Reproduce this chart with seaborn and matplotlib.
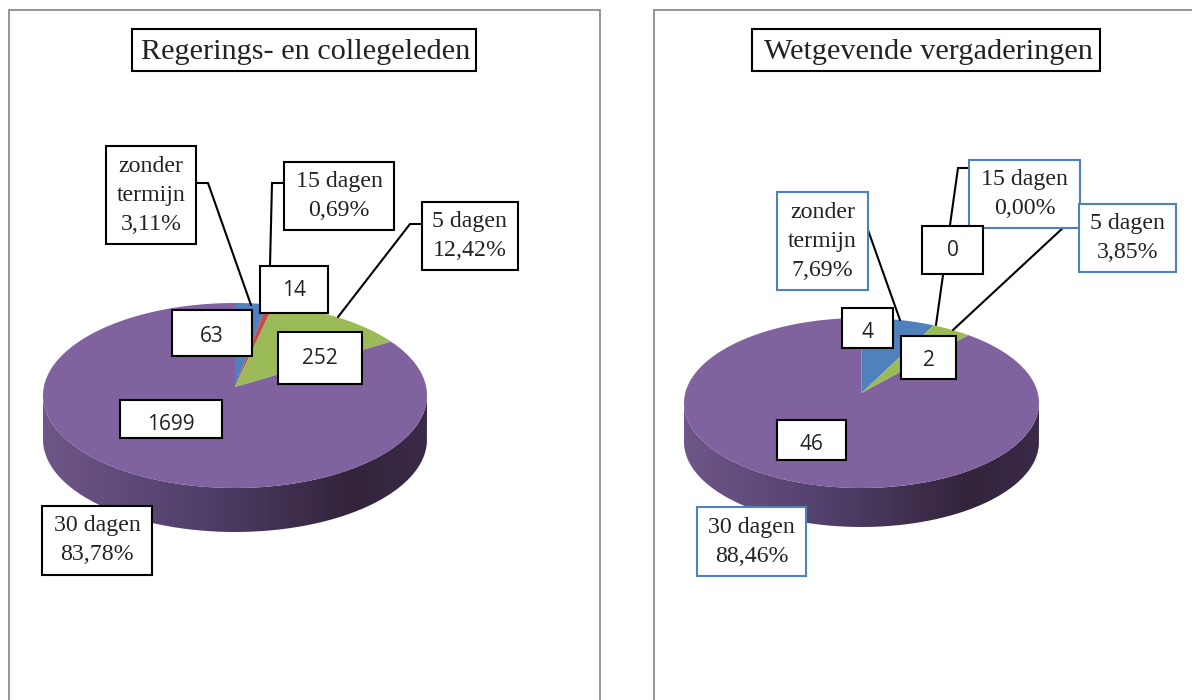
import numpy as np
import matplotlib
matplotlib.use("Agg")
import matplotlib.pyplot as plt
import seaborn as sns
from matplotlib.colors import LinearSegmentedColormap
from matplotlib.patches import Polygon, PathPatch, Rectangle
from matplotlib.path import Path
from matplotlib.transforms import Affine2D

# ---- data ----
categories = ["zonder\ntermijn", "15 dagen", "5 dagen", "30 dagen"]
titles = ["Regerings- en collegeleden", "Wetgevende vergaderingen"]
values_left = [63, 14, 252, 1699]
values_right = [4, 0, 2, 46]
percent_left = ["3,11%", "0,69%", "12,42%", "83,78%"]
percent_right = ["7,69%", "0,00%", "3,85%", "88,46%"]

# ---- style ----
sns.set_theme(style="white")
plt.rcParams["font.family"] = ["Liberation Serif", "DejaVu Serif"]
slice_colors = sns.color_palette(["#4F81BD", "#C0504D", "#9BBB59", "#80629E"])
side_cmap = LinearSegmentedColormap.from_list(
    "side", ["#6E5689", "#604B7A", "#51406C", "#423252", "#33243C", "#3A2A47"])
W, H = 1192, 700
TITLE_FS, LABEL_FS, VALUE_FS = 21.8, 17.2, 15

# ---- layout, in pixels of the picture ----
left_layout = dict(
    geom=(235, 395.5, 192, 92.5, 44, -8.5),
    frame=(9, 10, 600, 720),
    title=(132, 29, 476, 71),
    labels=[(106, 146, 196, 244), (284, 162, 394, 230), (422, 202, 518, 270), (42, 506, 152, 575)],
    boxes=[(172, 310, 252, 356), (260, 266, 328, 313), (278, 332, 362, 384), (120, 400, 222, 438)],
    box_dy=[3, 1, 0, 5],
    label_edge="black",
    leaders=[[(196, 183), (208, 183), (251, 305)],
             [(284, 183), (272, 183), (270, 266)],
             [(422, 224), (410, 224), (338, 317)]],
)
right_layout = dict(
    geom=(861.5, 403, 177.5, 85, 39, -10),
    frame=(654, 10, 1210, 720),
    title=(752, 29, 1100, 71),
    labels=[(777, 192, 868, 290), (969, 160, 1080, 228), (1079, 204, 1176, 272), (697, 507, 806, 576)],
    boxes=[(842, 308, 893, 348), (922, 226, 983, 274), (901, 336, 956, 379), (777, 420, 846, 460)],
    box_dy=[4, 1, 3, 5],
    label_edge="#4F81BD",
    leaders=[[(868, 230), (900, 320)],
             [(969, 168), (958, 168), (936, 325)],
             [(1079, 226), (1065, 226), (953, 330)]],
)
ANGLE_SQUEEZE = np.deg2rad(4.5)

fig = plt.figure(figsize=(W / 100, H / 100), dpi=100, facecolor="white")

# frames go under the pies
under = fig.add_axes([0, 0, 1, 1], zorder=0)
under.set_xlim(0, W); under.set_ylim(H, 0); under.axis("off")
# leaders and boxes go over them
over = fig.add_axes([0, 0, 1, 1], zorder=5)
over.set_xlim(0, W); over.set_ylim(H, 0); over.axis("off"); over.patch.set_alpha(0)


def draw_pie(values, geom):
    cx, cy, rx, ry, depth, apex = geom
    d = depth / ry
    ax = fig.add_axes([(cx - rx) / W, 1 - (cy + ry + depth) / H, 2 * rx / W, (2 * ry + depth) / H], zorder=2)
    wedges, _ = ax.pie(values, colors=slice_colors, startangle=90, counterclock=False, radius=1)
    ax.set_aspect("auto")

    # extruded rim with a horizontal gradient
    t = np.linspace(np.pi, 2 * np.pi, 200)
    rim = np.r_[np.c_[np.cos(t), np.sin(t)], np.c_[np.cos(t[::-1]), np.sin(t[::-1]) - d]]
    clip = PathPatch(Path(rim), transform=ax.transData, facecolor="none", edgecolor="none")
    ax.add_patch(clip)
    im = ax.imshow(np.linspace(0, 1, 256)[None, :], cmap=side_cmap, extent=(-1, 1, -1 - d, 0.2),
                   aspect="auto", zorder=0)
    im.set_clip_path(clip)
    ax.set_xlim(-1, 1)
    ax.set_ylim(-1 - d, 1)

    # the perspective moves the slice tips up and squeezes the far slices
    shift = -apex / ry
    scale = Affine2D().scale(1000)
    for w in wedges:
        p = w.get_patch_transform().transform_path(w.get_path())
        polys = p.to_polygons(scale)
        if not len(polys):
            w.set_visible(False)
            continue
        v = polys[0] / 1000
        r = np.hypot(v[:, 0], v[:, 1])
        a = np.arctan2(v[:, 0], v[:, 1])
        a = a - ANGLE_SQUEEZE * np.sin(2 * a)
        x, y = r * np.sin(a), r * np.cos(a)
        y = y + np.clip(1 - r, 0, 1) * shift
        ax.add_patch(Polygon(np.c_[x, y], closed=True, facecolor=w.get_facecolor(), edgecolor="none", zorder=2))
        w.set_visible(False)
    ax.set_frame_on(False)


def box(rect, text, edge, fs, family=None, lw=1.5, dx=0, dy=0, spacing=1.5):
    x0, y0, x1, y1 = rect
    over.add_patch(Rectangle((x0, y0), x1 - x0, y1 - y0, facecolor="white", edgecolor=edge, linewidth=lw, zorder=4))
    kw = dict(family=family) if family else {}
    over.text((x0 + x1) / 2 + dx, (y0 + y1) / 2 + dy, text, ha="center", va="center", fontsize=fs,
              color="#222222", linespacing=spacing, zorder=5, **kw)


for title, values, percents, lay in [(titles[0], values_left, percent_left, left_layout),
                                     (titles[1], values_right, percent_right, right_layout)]:
    x0, y0, x1, y1 = lay["frame"]
    under.add_patch(Rectangle((x0, y0), x1 - x0, y1 - y0, facecolor="white", edgecolor="#8C8C8C", linewidth=1.3))
    draw_pie(values, lay["geom"])
    for pts in lay["leaders"]:
        xs, ys = zip(*pts)
        over.plot(xs, ys, color="black", lw=1.5, zorder=3, solid_joinstyle="miter")
    for rect, cat, pct in zip(lay["labels"], categories, percents):
        box(rect, f"{cat}\n{pct}", lay["label_edge"], LABEL_FS)
    for rect, val, dy in zip(lay["boxes"], values, lay["box_dy"]):
        box(rect, str(val), "black", VALUE_FS, family="Open Sans", dy=dy)
    box(lay["title"], title, "black", TITLE_FS, dx=2, dy=2)

fig.savefig("out.png", dpi=100, facecolor="white")
